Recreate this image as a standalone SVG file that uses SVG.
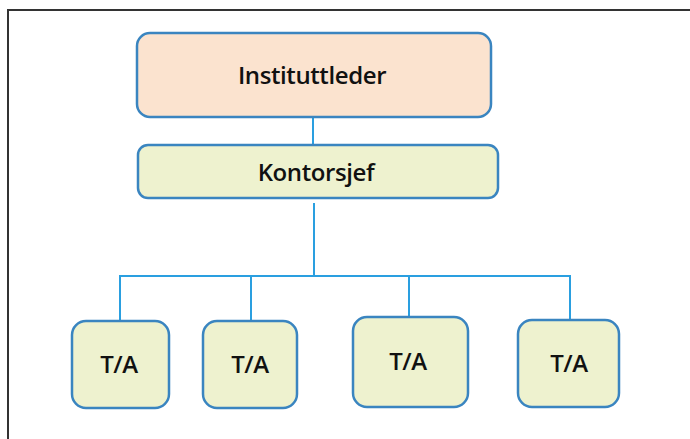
<svg xmlns="http://www.w3.org/2000/svg" width="690" height="439" viewBox="0 0 690 439">
<style>
.box{stroke:#3a85c0;stroke-width:2.5}
.top{fill:#fbe3cf}
.grn{fill:#eef2cf}
.lbl{font-family:"Open Sans","Noto Sans",sans-serif;font-weight:600;font-size:24px;letter-spacing:-0.4px;fill:#111;text-anchor:middle}
.con{stroke:#2a9fe0;stroke-width:2;fill:none}
</style>
<rect width="690" height="439" fill="#fff"/>
<path d="M8 439 V10 H690" fill="none" stroke="#333" stroke-width="2"/>
<g id="connectors">
<path class="con" d="M313 117 V145"/>
<path class="con" d="M314 203 V276"/>
<path class="con" d="M120 321 V276 H570 V320"/>
<path class="con" d="M251 276 V321"/>
<path class="con" d="M409 276 V317"/>
</g>
<g id="instituttleder">
<rect class="box top" x="137" y="33" width="354" height="84" rx="13"/>
<text class="lbl" x="312" y="84">Instituttleder</text>
</g>
<g id="kontorsjef">
<rect class="box grn" x="138" y="145" width="360" height="53" rx="10"/>
<text class="lbl" x="316" y="181">Kontorsjef</text>
</g>
<g id="ta1">
<rect class="box grn" x="72" y="321" width="97" height="87" rx="14"/>
<text class="lbl" x="119" y="373">T/A</text>
</g>
<g id="ta2">
<rect class="box grn" x="203" y="321" width="94" height="87" rx="14"/>
<text class="lbl" x="250" y="373">T/A</text>
</g>
<g id="ta3">
<rect class="box grn" x="353" y="317" width="115" height="90" rx="14"/>
<text class="lbl" x="408" y="370">T/A</text>
</g>
<g id="ta4">
<rect class="box grn" x="518" y="320" width="101" height="87" rx="14"/>
<text class="lbl" x="569" y="372">T/A</text>
</g>
</svg>
